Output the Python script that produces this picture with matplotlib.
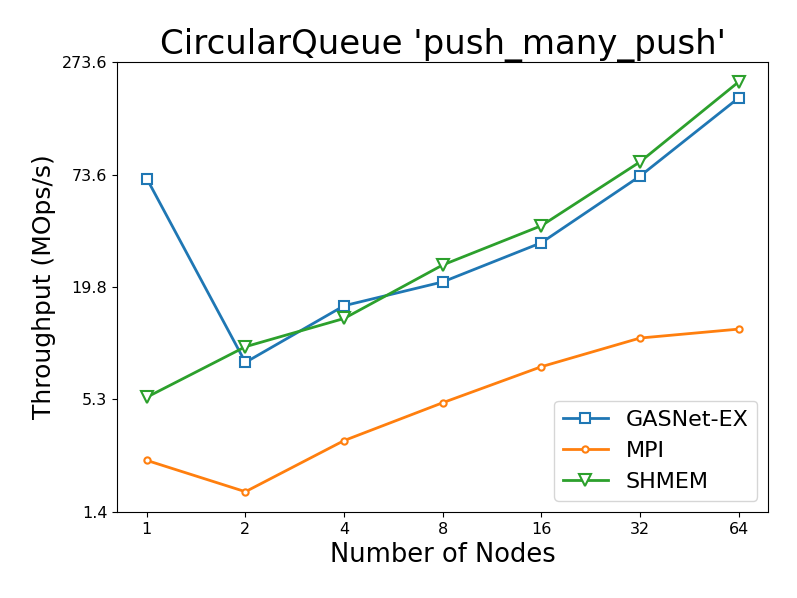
import numpy as np
import matplotlib.pyplot as plt
from matplotlib.ticker import FixedLocator, NullLocator

nodes = [1, 2, 4, 8, 16, 32, 64]
gasnet = [70.3, 8.2, 15.9, 21.0, 33.2, 72.3, 180.4]
mpi = [2.61, 1.81, 3.29, 5.12, 7.80, 10.9, 12.1]
shmem = [5.46, 9.85, 13.7, 25.6, 40.5, 85.4, 217.5]

ymin, ymax = 1.43, 273.6

fig = plt.figure(figsize=(7.97, 5.98), dpi=100)
ax = fig.add_axes([0.147, 0.144, 0.817, 0.752])

ax.plot(nodes, gasnet, marker='s', ms=7.5, mfc='white', mew=1.5, lw=2, label='GASNet-EX')
ax.plot(nodes, mpi, marker='o', ms=4.5, mfc='white', mew=1.5, lw=2, label='MPI')
ax.plot(nodes, shmem, marker='v', ms=9, mfc='white', mew=1.5, lw=2, label='SHMEM')

ax.set_xscale('log', base=2)
ax.set_yscale('log')
ax.set_ylim(ymin, ymax)

ax.xaxis.set_major_locator(FixedLocator(nodes))
ax.xaxis.set_minor_locator(NullLocator())
ax.set_xticklabels([str(n) for n in nodes])

yt = np.logspace(np.log10(ymin), np.log10(ymax), 5)
ax.yaxis.set_major_locator(FixedLocator(yt))
ax.yaxis.set_minor_locator(NullLocator())
ax.set_yticklabels(['%.1f' % v for v in [1.4, 5.3, 19.8, 73.6, 273.6]])
ax.tick_params(labelsize=11.5)

ax.set_title("CircularQueue 'push_many_push'", fontsize=24.5)
ax.set_xlabel('Number of Nodes', fontsize=18.5)
ax.set_ylabel('Throughput (MOps/s)', fontsize=18)
ax.legend(loc='lower right', fontsize=16)

fig.savefig('out.png')
